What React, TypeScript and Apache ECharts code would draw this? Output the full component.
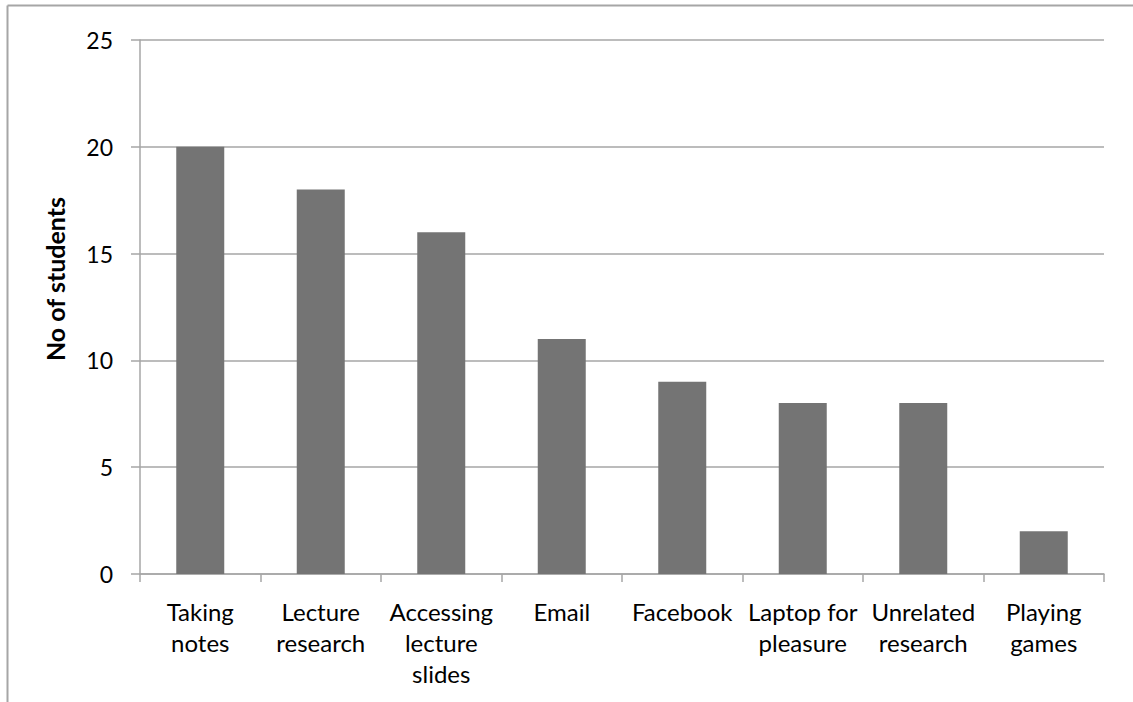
import React, { useEffect, useRef } from "react";
import * as echarts from "echarts";

const categories = [
  "Taking\nnotes",
  "Lecture\nresearch",
  "Accessing\nlecture\nslides",
  "Email",
  "Facebook",
  "Laptop for\npleasure",
  "Unrelated\nresearch",
  "Playing\ngames",
];
const students = [20, 18, 16, 11, 9, 8, 8, 2];
const yTitle = "No of students";

const FONT = "Lato, 'Open Sans', sans-serif";
const GRAY = "#A6A6A6";

export default function App() {
  const ref = useRef<HTMLDivElement>(null);
  useEffect(() => {
    if (!ref.current) return;
    const chart = echarts.init(ref.current, undefined, { renderer: "svg" });
    chart.setOption({
      animation: false,
      backgroundColor: "#ffffff",
      textStyle: { fontFamily: FONT },
      graphic: [
        {
          type: "line",
          shape: { x1: 7.5, y1: 5.5, x2: 1133, y2: 5.5 },
          style: { stroke: GRAY, lineWidth: 2 },
        },
        {
          type: "line",
          shape: { x1: 7.5, y1: 5.5, x2: 7.5, y2: 702 },
          style: { stroke: GRAY, lineWidth: 2 },
        },
      ],
      grid: { left: 140, right: 29, top: 40, bottom: 128, containLabel: false },
      xAxis: {
        type: "category",
        data: categories,
        axisLine: { show: true, lineStyle: { color: GRAY, width: 1.5 } },
        axisTick: { show: true, length: 8, alignWithLabel: false, lineStyle: { color: GRAY, width: 1.5 } },
        axisLabel: {
          interval: 0,
          color: "#000000",
          fontSize: 24,
          fontFamily: FONT,
          lineHeight: 31,
          margin: 22,
        },
        splitLine: { show: false },
      },
      yAxis: {
        type: "value",
        min: 0,
        max: 25,
        interval: 5,
        name: yTitle,
        nameLocation: "middle",
        nameGap: 73,
        nameRotate: 90,
        nameTextStyle: {
          color: "#000000",
          fontSize: 25,
          fontWeight: "bold",
          fontFamily: FONT,
          padding: [0, 0, 0, 56],
        },
        axisLine: { show: true, lineStyle: { color: GRAY, width: 1.5 } },
        axisTick: { show: true, length: 9, lineStyle: { color: GRAY, width: 1.5 } },
        axisLabel: { color: "#000000", fontSize: 23, fontFamily: FONT, margin: 27 },
        splitLine: { show: true, lineStyle: { color: GRAY, width: 1.5 } },
      },
      series: [
        {
          type: "bar",
          data: students,
          barWidth: 48,
          itemStyle: { color: "#747474" },
        },
      ],
    });
    return () => chart.dispose();
  }, []);
  return (
    <div
      ref={ref}
      style={{ position: "fixed", left: 0, top: 0, width: 1133, height: 702, background: "#fff" }}
    />
  );
}
